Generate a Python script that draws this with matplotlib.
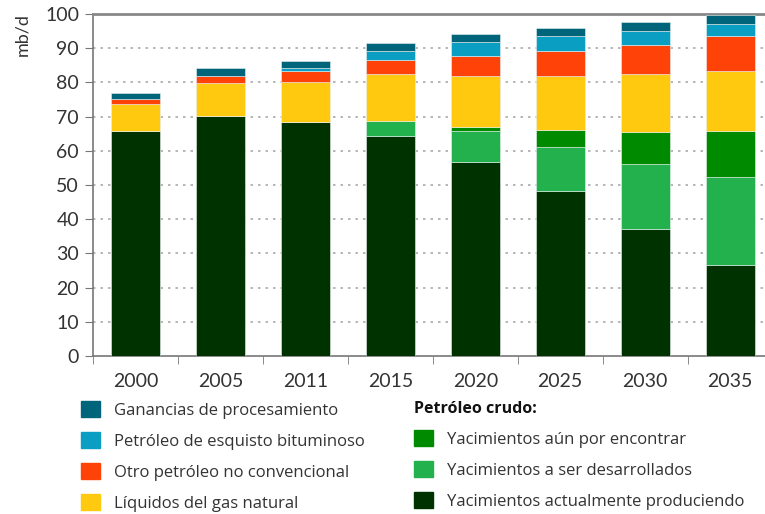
import numpy as np
import matplotlib
matplotlib.use("Agg")
from matplotlib import pyplot as plt
from matplotlib.patches import Patch

# years on the x axis
years = ["2000", "2005", "2011", "2015", "2020", "2025", "2030", "2035"]

# mb/d, bottom to top
producing = [65.7, 70.1, 68.5, 64.4, 56.8, 48.3, 37.2, 26.5]
to_develop = [0.0, 0.0, 0.0, 4.4, 8.9, 12.9, 19.0, 25.9]
to_find = [0.0, 0.0, 0.0, 0.0, 1.3, 4.8, 9.2, 13.3]
ngl = [7.9, 9.8, 11.7, 13.7, 14.8, 15.8, 17.1, 17.6]
other_unconv = [1.5, 2.1, 3.1, 4.0, 6.0, 7.4, 8.5, 10.3]
shale = [0.0, 0.0, 1.0, 2.8, 3.9, 4.4, 4.0, 3.4]
gains = [1.8, 2.3, 2.1, 2.1, 2.5, 2.4, 2.7, 2.8]

lab_gains = "Ganancias de procesamiento"
lab_shale = "Petróleo de esquisto bituminoso"
lab_other = "Otro petróleo no convencional"
lab_ngl = "Líquidos del gas natural"
lab_crude = "Petróleo crudo:"
lab_find = "Yacimientos aún por encontrar"
lab_dev = "Yacimientos a ser desarrollados"
lab_prod = "Yacimientos actualmente produciendo"

c_gains = "#00647a"
c_shale = "#0a9ec3"
c_other = "#ff4208"
c_ngl = "#ffc910"
c_find = "#008a00"
c_dev = "#23b14d"
c_prod = "#003200"

plt.rcParams["font.family"] = ["Lato", "DejaVu Sans"]
txt = "#333333"

fig = plt.figure(figsize=(7.65, 5.14), dpi=100)
ax = fig.add_axes([93/765, 1-356/514, 1-93/765, (356-14)/514])

x = np.arange(len(years))
w = 0.58
series = [(producing, c_prod), (to_develop, c_dev), (to_find, c_find),
          (ngl, c_ngl), (other_unconv, c_other), (shale, c_shale), (gains, c_gains)]
bottom = np.zeros(len(years))
for vals, col in series:
    vals = np.array(vals)
    ax.bar(x, vals, w, bottom=bottom, color=col, edgecolor="#e8f0f0", linewidth=0.4, zorder=3)
    bottom += vals

ax.set_ylim(0, 100)
ax.set_xlim(-0.5, 7.41)
ax.set_yticks(np.arange(0, 101, 10))
ax.tick_params(axis="y", length=6, color="#777777", labelsize=14, labelcolor=txt, pad=4)
ax.set_xticks(x)
ax.set_xticklabels(years)
ax.tick_params(axis="x", which="major", length=0, labelsize=14, labelcolor=txt, pad=12)
ax.set_xticks(np.arange(-0.5, 7, 1.0), minor=True)
ax.tick_params(axis="x", which="minor", length=6, color="#777777")

for y in range(10, 100, 10):
    ax.axhline(y, color="#aaaaaa", linestyle=(0, (1.5, 3)), linewidth=1.2, zorder=1)

for s in ["left", "bottom"]:
    ax.spines[s].set_color("#777777")
    ax.spines[s].set_linewidth(1.2)
ax.spines["top"].set_color("#888888")
ax.spines["top"].set_linewidth(2)
ax.spines["right"].set_visible(False)

fig.text(22/765, 1-35/514, "mb/d", rotation=90, ha="center", va="center",
         fontsize=13, color=txt)

font_leg = {"family": ["Open Sans", "DejaVu Sans"], "size": 12}
leg_kw = dict(frameon=False, handlelength=1.15, handleheight=1.1,
              handletextpad=0.85, labelspacing=0.8, borderaxespad=0, borderpad=0,
              labelcolor=txt, prop=font_leg)

h1 = [Patch(color=c_gains), Patch(color=c_shale), Patch(color=c_other), Patch(color=c_ngl)]
l1 = [lab_gains, lab_shale, lab_other, lab_ngl]
leg1 = fig.legend(h1, l1, loc="upper left", bbox_to_anchor=(81/765, 1-401/514), **leg_kw)

h2 = [Patch(color=c_find), Patch(color=c_dev), Patch(color=c_prod)]
l2 = [lab_find, lab_dev, lab_prod]
leg2 = fig.legend(h2, l2, loc="upper left", bbox_to_anchor=(414/765, 1-401/514),
                  title=lab_crude, alignment="left", **leg_kw)
leg2.get_title().set_fontweight("bold")
leg2.get_title().set_fontsize(11.5)
leg2.get_title().set_family(["Open Sans", "DejaVu Sans"])
leg2.get_title().set_color("#111111")

fig.savefig("out.png", dpi=100)
